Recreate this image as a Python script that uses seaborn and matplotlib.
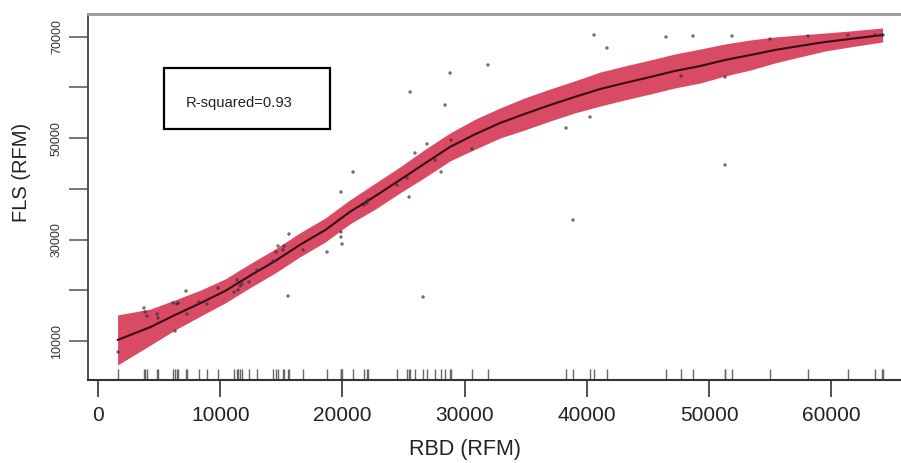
import numpy as np
import pandas as pd
import matplotlib
matplotlib.use('Agg')
import matplotlib.pyplot as plt
from matplotlib.patches import Rectangle
import seaborn as sns

# fitted curve with confidence band
fit_x = [1600, 4300, 6300, 8400, 10400, 12400, 14500, 16500, 18600, 20600,
         22700, 24700, 26800, 28800, 30900, 32900, 34900, 37000, 39000, 41100,
         43100, 45200, 47200, 49300, 51300, 53400, 55400, 57400, 59500, 61500, 64200]
fit_y = [10200, 12760, 15130, 17490, 19860, 22820, 25780, 28930, 31890, 35440,
         38590, 41750, 45100, 48260, 50820, 52990, 54760, 56540, 58120, 59690,
         60880, 62060, 63240, 64230, 65410, 66400, 67390, 68170, 68960, 69550, 70340]
fit_lo = [5270, 9210, 12170, 14930, 17490, 20450, 23410, 26560, 29520, 33070,
          36030, 39190, 42340, 45500, 47860, 50030, 51600, 53380, 54960, 56340,
          57530, 58710, 59890, 60880, 62250, 63440, 64830, 66000, 67190, 67970, 68960]
fit_hi = [15130, 16310, 18090, 20050, 22230, 25190, 28150, 31300, 34260, 37810,
          41150, 44310, 47860, 51020, 53780, 55950, 57920, 59700, 61280, 63040,
          64230, 65410, 66590, 67580, 68570, 69360, 69950, 70340, 70730, 71130, 71720]

# observed points
rbd = [1640, 3760, 3850, 4010, 4830, 4910, 6140, 6300, 6460, 6550,
       7200, 7280, 8270, 8920, 9820, 11130, 11370, 11460, 11620, 11780,
       12360, 13010, 14320, 14570, 14730, 15140, 15220, 15550, 15630, 16780,
       18740, 19880, 19880, 19880, 19970, 20870, 21770, 22010, 22090, 24470,
       25290, 25450, 25540, 25940, 26600, 26920, 27580, 28070, 28400, 28810,
       28890, 30600, 31910, 38300, 38870, 40260, 40590, 41650, 46480, 47710,
       48690, 51310, 51310, 51880, 54990, 58100, 61370, 63580, 64160, 64240]
fls = [7830, 16510, 15720, 14930, 15320, 14540, 17490, 11970, 17300, 17490,
       19860, 15320, 17690, 17300, 20450, 19660, 22030, 20060, 20850, 21240,
       21640, 24000, 25780, 27550, 28730, 27950, 28730, 18870, 31100, 27950,
       27550, 39380, 31490, 30510, 29130, 43330, 36820, 37210, 37810, 40760,
       42140, 38400, 59100, 47070, 18680, 48850, 45690, 43330, 56540, 62850,
       49640, 47860, 64430, 52000, 33860, 54170, 70340, 67780, 69950, 62260,
       70150, 62060, 44710, 70150, 69550, 70150, 70340, 70340, 70340, 70340]

x_ticks = [0, 10000, 20000, 30000, 40000, 50000, 60000]
y_ticks = [10000, 20000, 30000, 40000, 50000, 60000, 70000]
y_labels = ['10000', '', '30000', '', '50000', '', '70000']

sns.set_theme(style='white')
plt.rcParams['font.family'] = ['Liberation Sans', 'DejaVu Sans']

fit = pd.DataFrame({'rbd': fit_x, 'fls': fit_y, 'lo': fit_lo, 'hi': fit_hi})
pts = pd.DataFrame({'rbd': rbd, 'fls': fls})

fig = plt.figure(figsize=(9.01, 4.63), dpi=100)
ax = fig.add_axes([88 / 901, 83 / 463, 1 - 88 / 901, (380 - 14) / 463])

ax.fill_between(fit['rbd'], fit['lo'], fit['hi'], color='#d94a65', lw=0, zorder=1)
sns.lineplot(data=fit, x='rbd', y='fls', color='#3b0b14', lw=1.5, ax=ax, zorder=3)
sns.scatterplot(data=pts, x='rbd', y='fls', color='#333333', s=6, alpha=0.7,
                edgecolor='none', ax=ax, zorder=4)
sns.rugplot(data=pts, x='rbd', height=0.03, color='#666666', lw=1, ax=ax)

ax.set_xlim(-820, 65710)
ax.set_ylim(2310, 74480)

ax.set_xticks(x_ticks)
ax.set_xticklabels([str(v) for v in x_ticks], fontsize=15)
ax.set_yticks(y_ticks)
ax.set_yticklabels(y_labels, fontsize=9, rotation=90, va='center')
ax.tick_params(axis='x', length=12, width=1.2, color='#333333', pad=7, labelcolor='#222222')
ax.tick_params(axis='y', length=14, width=1.4, color='#777777', pad=4, labelcolor='#333333')
ax.tick_params(bottom=True, left=True)

ax.set_xlabel('')
ax.set_ylabel('')

for side in ['left', 'top', 'bottom']:
    ax.spines[side].set_visible(True)
ax.spines['right'].set_visible(False)
ax.spines['top'].set_color('#999999')
ax.spines['top'].set_linewidth(2)
ax.spines['left'].set_color('#444444')
ax.spines['left'].set_linewidth(1.3)
ax.spines['bottom'].set_color('#333333')
ax.spines['bottom'].set_linewidth(1.5)

fig.text(465 / 901, 1 - 449 / 463, 'RBD (RFM)', fontsize=15.5, ha='center', va='center', color='#222222')
fig.text(22 / 901, 1 - 172 / 463, 'FLS (RFM)', fontsize=14.5, rotation=90,
         ha='center', va='center', color='#222222')

fig.patches.append(Rectangle((164 / 901, 1 - 129 / 463), 166 / 901, 61 / 463,
                             transform=fig.transFigure, fill=False, ec='black', lw=1.6))
fig.text(239 / 901, 1 - 103 / 463, 'R-squared=0.93', fontsize=10.6,
         ha='center', va='center', color='#222222')

fig.savefig('out.png', dpi=100, facecolor='white')
